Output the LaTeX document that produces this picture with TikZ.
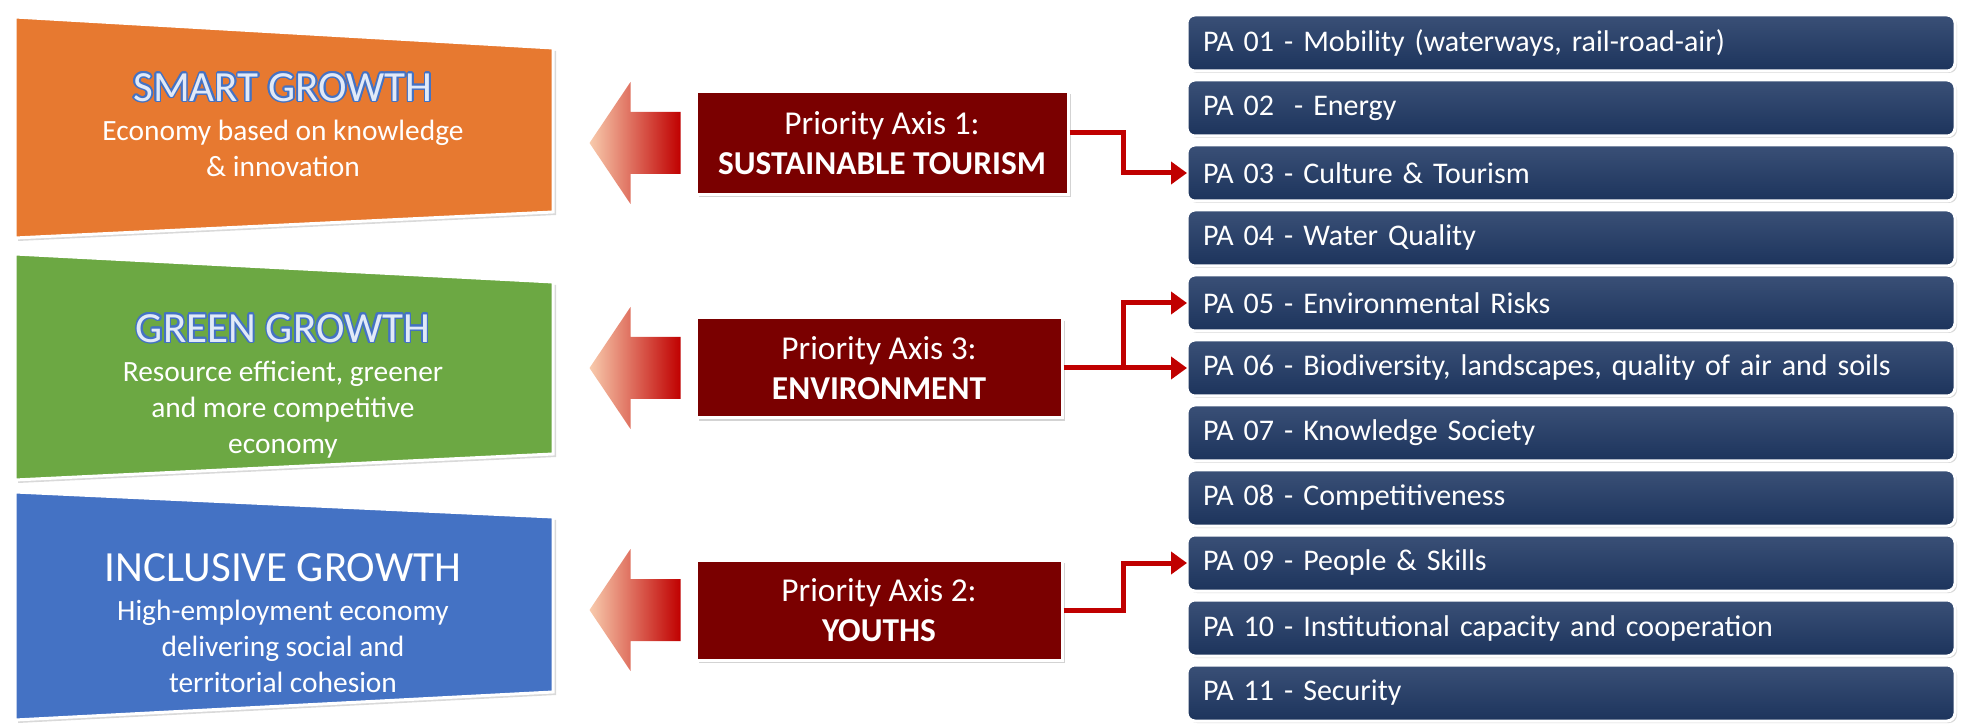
\documentclass[tikz,border=0pt]{standalone}
\usepackage{fontspec}
\setmainfont{Carlito}
\usepackage[copies]{contour}
\usetikzlibrary{calc,positioning,arrows.meta,shadows}

\newcommand\growthhead[1]{{\fontsize{21.5}{24}\selectfont #1}}
\contourlength{0.8pt}

\begin{document}
\begin{tikzpicture}[
            x=0.5pt,y=0.5pt,
            node distance=4.5pt,
            growth/.style={draw=white,line width=1.5pt,
                drop shadow={shadow xshift=1.5pt,shadow yshift=-1.5pt,opacity=.3}},
            gtext/.style={text=white,align=center,font=\fontsize{14.7}{18}\selectfont},
            fat/.style={left color=pcx,right color=lnx},
            axbox/.style={draw=white,line width=1.5pt,fill=rdx,text=white,align=center,
                font=\fontsize{16.7}{20}\selectfont,
                drop shadow={shadow xshift=1.5pt,shadow yshift=-1.5pt,opacity=.35}},
            link/.style={draw=lnx,line width=2.5pt,-{Triangle[length=8pt,width=11pt]}}
        ]
            \definecolor{orx}{RGB}{231,121,48}
            \definecolor{grx}{RGB}{108,168,67}
            \definecolor{blx}{RGB}{68,114,196}
            \definecolor{glx}{RGB}{225,234,248}
            \definecolor{rdx}{RGB}{122,0,0}
            \definecolor{nvx}{RGB}{31,56,100}
            \definecolor{lnx}{RGB}{192,0,0}
            \definecolor{pcx}{RGB}{248,203,173}

            \useasboundingbox (0,0) rectangle (1963,723);

            % growth boxes
            \filldraw [growth,fill=orx] (15,706) -- (553,675) -- (553,511) -- (15,485) -- cycle;
            \filldraw [growth,fill=grx] (15,469) -- (553,441) -- (553,269) -- (15,243) -- cycle;
            \filldraw [growth,fill=blx] (15,231) -- (553,206) -- (553,31)  -- (15,3)   -- cycle;
            \node (sg) [gtext] at (283,598) {\growthhead{\contour{blx}{\color{glx}SMART GROWTH}}\\[1.5pt]
                Economy based on knowledge\\ \& innovation};
            \node (gg) [gtext] at (283,337) {\growthhead{\contour{blx}{\color{glx}GREEN GROWTH}}\\[1.5pt]
                Resource efficient, greener\\ and more competitive\\ economy};
            \node (ig) [gtext] at (283,100) {\growthhead{INCLUSIVE GROWTH}\\[1.5pt]
                High-employment economy\\ delivering social and\\ territorial cohesion};

            % priority areas
            \begin{scope}[
                every node/.style={rounded corners=4pt,draw=white,line width=1.5pt,
                    top color=nvx!88!white,bottom color=nvx!92!black,text=white,
                    minimum height=28pt,text width=368pt,inner xsep=8pt,outer sep=0pt,
                    align=left,font=\fontsize{15}{17}\selectfont,
                    drop shadow={shadow xshift=1pt,shadow yshift=-1pt,opacity=.3}}
            ]
                \node (pa1) at (1571,680)    {PA 01 - Mobility (waterways, rail-road-air)};
                \node (pa2) [below=of pa1]   {PA 02 \ - Energy};
                \node (pa3) [below=of pa2]   {PA 03 - Culture \& Tourism};
                \node (pa4) [below=of pa3]   {PA 04 - Water Quality};
                \node (pa5) [below=of pa4]   {PA 05 - Environmental Risks};
                \node (pa6) [below=of pa5]   {PA 06 - Biodiversity, landscapes, quality of air and soils};
                \node (pa7) [below=of pa6]   {PA 07 - Knowledge Society};
                \node (pa8) [below=of pa7]   {PA 08 - Competitiveness};
                \node (pa9) [below=of pa8]   {PA 09 - People \& Skills};
                \node (pa10) [below=of pa9]  {PA 10 - Institutional capacity and cooperation};
                \node (pa11) [below=of pa10] {PA 11 - Security};
            \end{scope}

            % priority axes
            \node (ax1) [axbox,minimum width=186pt,minimum height=51.5pt] at (882,580)
                {Priority Axis 1:\\\textbf{SUSTAINABLE TOURISM}};
            \node (ax3) [axbox,minimum width=183pt,minimum height=50pt] at (879,355)
                {Priority Axis 3:\\\textbf{ENVIRONMENT}};
            \node (ax2) [axbox,minimum width=183pt,minimum height=50pt] at (879,113)
                {Priority Axis 2:\\\textbf{YOUTHS}};

            % fat arrows to the growth boxes
            \shade [fat] ($(ax1.west)+(-14,31)$) -- ++(-50,0) -- ++(0,30) -- ++(-41,-61)
                -- ++(41,-61) -- ++(0,30) -- ++(50,0) -- cycle;
            \shade [fat] ($(ax3.west)+(-14,31)$) -- ++(-50,0) -- ++(0,30) -- ++(-41,-61)
                -- ++(41,-61) -- ++(0,30) -- ++(50,0) -- cycle;
            \shade [fat] ($(ax2.west)+(-14,31)$) -- ++(-50,0) -- ++(0,30) -- ++(-41,-61)
                -- ++(41,-61) -- ++(0,30) -- ++(50,0) -- cycle;

            % links
            \coordinate (kx) at (1123,0);
            \coordinate (e1) at ([yshift=5.25pt]ax1.east);
            \draw [link] (e1) -- (e1 -| kx) |- (pa3.west);
            \draw [link] (ax3.east) -- (ax3.east -| pa6.west);
            \draw [link] (ax3.east -| kx) |- (pa5.west);
            \draw [link] (ax2.east) -- (ax2.east -| kx) |- (pa9.west);
        \end{tikzpicture}
\end{document}
